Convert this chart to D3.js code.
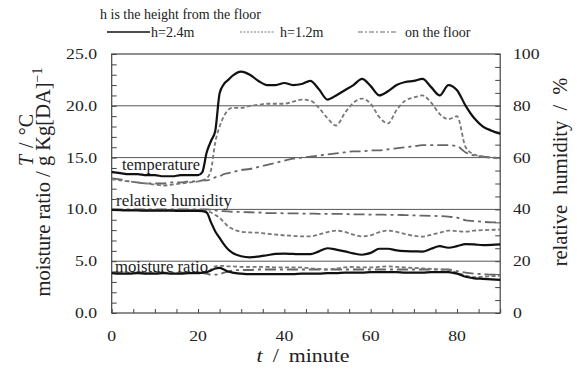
<!DOCTYPE html>
<html><head><meta charset="utf-8">
<script src="https://cdn.jsdelivr.net/npm/d3@7"></script>
<style>body{margin:0;background:#fff}svg{display:block}</style>
</head><body>
<svg id="c" width="577" height="373"></svg>
<script>
const times = [0,2,4,6,8,10,12,14,16,18,20,21,22,23,24,25,26,27,28,30,32,34,36,38,40,42,44,46,48,50,52,54,56,58,60,62,64,66,68,70,72,74,76,78,80,82,84,86,88,90];
// temperature (°C, left axis)
const temp24 = [13.6,13.5,13.4,13.4,13.3,13.3,13.2,13.2,13.3,13.3,13.3,13.6,15.5,16.6,17.6,21.2,22.1,22.5,22.9,23.3,23.0,22.4,22.0,22.0,22.2,22.0,22.1,22.4,21.6,20.6,21.0,21.5,22.0,22.6,21.9,21.0,21.4,22.0,22.3,22.4,22.6,21.8,21.0,22.0,21.5,20.0,18.8,18.0,17.6,17.3];
const temp12 = [12.9,12.8,12.7,12.6,12.5,12.4,12.3,12.4,12.5,12.6,12.7,12.8,13.0,13.8,16.5,18.0,19.0,19.6,19.8,19.8,20.0,20.1,20.2,20.2,20.2,20.4,20.6,20.5,19.8,18.8,18.1,19.3,20.3,20.7,20.2,18.9,18.3,19.6,20.5,20.8,21.0,20.3,19.2,18.7,19.0,16.0,15.3,15.1,15.0,14.9];
const tempFloor = [13.0,12.9,12.7,12.6,12.5,12.5,12.5,12.6,12.6,12.7,12.7,12.8,12.8,12.9,13.1,13.2,13.4,13.5,13.6,13.8,13.9,14.1,14.3,14.5,14.7,14.9,15.0,15.1,15.2,15.3,15.4,15.5,15.6,15.6,15.7,15.7,15.8,15.9,16.0,16.1,16.2,16.2,16.2,16.2,16.1,15.5,15.2,15.1,15.0,15.0];
// relative humidity (%, right axis)
const rh24 = [39.8,39.7,39.6,39.6,39.5,39.5,39.5,39.5,39.4,39.4,39.4,39.3,38.8,35.0,31.5,29.0,26.5,24.5,23.2,21.9,21.5,21.8,22.3,22.8,22.9,22.8,22.7,22.7,23.8,25.0,24.5,23.8,23.0,22.5,23.2,24.8,24.8,24.2,23.9,23.8,23.7,24.8,25.8,25.2,25.8,26.6,26.5,26.2,26.3,26.5];
const rh12 = [39.8,39.8,39.7,39.7,39.6,39.6,39.6,39.6,39.6,39.6,39.6,39.5,39.3,38.8,37.8,36.8,35.0,33.4,32.5,31.4,31.1,31.0,30.6,30.3,30.0,29.8,29.6,29.6,30.3,31.2,31.8,31.3,30.3,29.6,30.0,31.2,31.8,31.3,30.5,29.8,29.5,30.2,31.0,31.8,31.6,31.4,31.8,32.0,32.1,32.2];
const rhFloor = [40.0,40.0,40.0,40.0,40.0,40.0,40.0,40.0,40.0,40.0,40.0,40.0,40.0,39.8,39.6,39.4,39.3,39.2,39.1,39.0,38.9,38.8,38.6,38.6,38.5,38.5,38.4,38.4,38.3,38.3,38.3,38.2,38.1,38.1,38.0,38.0,37.9,37.9,37.8,37.7,37.6,37.5,37.4,37.2,36.8,35.8,35.5,35.2,35.0,35.0];
// moisture ratio (g/kg[DA], left axis)
const mr24 = [3.85,3.8,3.8,3.85,3.8,3.8,3.85,3.8,3.8,3.85,3.85,3.9,3.95,4.1,4.3,4.35,4.2,4.0,3.9,3.8,3.75,3.75,3.75,3.75,3.75,3.75,3.8,3.8,3.8,3.85,3.85,3.9,3.9,3.9,3.95,3.95,3.95,3.95,3.9,3.9,3.9,3.95,3.95,3.95,3.8,3.5,3.35,3.3,3.25,3.2];
const mr12 = [3.85,3.85,3.85,3.85,3.85,3.85,3.85,3.85,3.85,3.85,3.85,3.85,3.9,4.2,4.5,4.55,4.55,4.5,4.5,4.45,4.45,4.45,4.45,4.4,4.4,4.4,4.4,4.3,4.25,4.2,4.3,4.4,4.45,4.4,4.4,4.45,4.5,4.45,4.4,4.35,4.3,4.25,4.2,4.15,3.9,3.6,3.45,3.5,3.55,3.6];
const mrFloor = [3.9,3.9,3.9,3.9,3.9,3.9,3.9,3.9,3.9,3.9,3.9,3.85,3.8,3.7,3.7,3.75,3.9,4.0,4.1,4.15,4.15,4.2,4.2,4.2,4.2,4.2,4.2,4.2,4.2,4.2,4.2,4.2,4.2,4.2,4.2,4.2,4.2,4.2,4.2,4.2,4.2,4.2,4.2,4.2,4.05,3.9,3.8,3.75,3.7,3.7];

const leftTicks = [0,5,10,15,20,25];
const rightTicks = [0,20,40,60,80,100];
const xTicks = [0,20,40,60,80];
const gridVals = [5,10,15,20];

const svg = d3.select("#c");
const L = 111.7, R = 500.2, T = 54, B = 313;
const x = d3.scaleLinear().domain([0,90]).range([L,R]);
const yL = d3.scaleLinear().domain([0,25]).range([B,T]);
const yR = d3.scaleLinear().domain([0,100]).range([B,T]);

// gridlines
svg.append("g").selectAll("line").data(gridVals).join("line")
  .attr("x1",L).attr("x2",R).attr("y1",d=>yL(d)).attr("y2",d=>yL(d))
  .attr("stroke","#555").attr("stroke-width",1);

// axes (inward ticks)
const gL = svg.append("g").attr("transform",`translate(${L},0)`)
  .call(d3.axisLeft(yL).tickValues(d3.range(0,26,1)).tickSize(-5).tickFormat(""));
const gR = svg.append("g").attr("transform",`translate(${R},0)`)
  .call(d3.axisRight(yR).tickValues(d3.range(0,101,5)).tickSize(-5).tickFormat(""));
const gB = svg.append("g").attr("transform",`translate(0,${B})`)
  .call(d3.axisBottom(x).tickValues(d3.range(0,91,5)).tickSize(-4).tickFormat(""));
[gL,gR,gB].forEach(g=>{g.select(".domain").remove();g.selectAll("line").attr("stroke","#444");g.selectAll("text").remove();});

svg.append("rect").attr("x",L).attr("y",T).attr("width",R-L).attr("height",B-T)
  .attr("fill","none").attr("stroke","#444").attr("stroke-width",1.2);

// tick labels (slightly wide glyphs, as in the reference)
const SX = 1.18;
svg.append("g").selectAll("text").data(leftTicks).join("text")
  .attr("transform",d=>`translate(97,${yL(d)+5}) scale(${SX},1)`).attr("text-anchor","end").attr("font-size",15)
  .text(d=>d3.format(".1f")(d));
svg.append("g").selectAll("text").data(rightTicks).join("text")
  .attr("transform",d=>`translate(513,${yR(d)+5}) scale(${SX},1)`).attr("text-anchor","start").attr("font-size",15)
  .text(d=>d);
svg.append("g").selectAll("text").data(xTicks).join("text")
  .attr("transform",d=>`translate(${x(d)},341) scale(${SX},1)`).attr("text-anchor","middle").attr("font-size",15)
  .text(d=>d);

// series
const styles = {
  solid:{stroke:"#111",w:2.2,dash:null},
  dot:{stroke:"#777",w:1.8,dash:"4,2.5"},
  dd:{stroke:"#666",w:1.8,dash:"11,4,3,4"}
};
const series = [
  {v:tempFloor,y:yL,s:"dd"},{v:temp12,y:yL,s:"dot"},{v:temp24,y:yL,s:"solid"},
  {v:rhFloor,y:yR,s:"dd"},{v:rh12,y:yR,s:"dot"},{v:rh24,y:yR,s:"solid"},
  {v:mrFloor,y:yL,s:"dd"},{v:mr12,y:yL,s:"dot"},{v:mr24,y:yL,s:"solid"}
];
series.forEach(se=>{
  const st = styles[se.s];
  const line = d3.line().x((d,i)=>x(times[i])).y(d=>se.y(d)).curve(d3.curveMonotoneX);
  svg.append("path").datum(se.v).attr("d",line).attr("fill","none")
    .attr("stroke",st.stroke).attr("stroke-width",st.w)
    .attr("stroke-dasharray",st.dash).attr("stroke-linejoin","round");
});

// in-plot labels
const inLabels = [
  {t:"temperature",x:122,y:170,w:78},
  {t:"relative humidity",x:116,y:206,w:116},
  {t:"moisture ratio",x:115,y:272,w:93}
];
svg.append("g").selectAll("text").data(inLabels).join("text")
  .attr("x",d=>d.x).attr("y",d=>d.y).attr("font-size",17)
  .attr("textLength",d=>d.w).attr("lengthAdjust","spacingAndGlyphs").text(d=>d.t);

// axis titles
const t1 = svg.append("text").attr("transform","translate(33,140) rotate(-90)")
  .attr("text-anchor","middle").attr("font-size",20).style("word-spacing","2px");
t1.append("tspan").attr("font-style","italic").text("T");
t1.append("tspan").text(" / °C");
const t2 = svg.append("text").attr("transform","translate(50,182) rotate(-90)")
  .attr("text-anchor","middle").attr("font-size",20.5);
t2.append("tspan").text("moisture ratio / g Kg[DA]");
t2.append("tspan").attr("font-size",14).attr("dy",-8).text("−1");
svg.append("text").attr("transform","translate(567,172) rotate(-90)")
  .attr("text-anchor","middle").attr("font-size",20.5).style("word-spacing","5px").text("relative humidity / %");
const t3 = svg.append("text").attr("transform","translate(303,362) scale(1.15,1)").attr("text-anchor","middle")
  .attr("font-size",19).style("word-spacing","4px");
t3.append("tspan").attr("font-style","italic").text("t");
t3.append("tspan").text(" / minute");

// legend
svg.append("text").attr("x",100).attr("y",19).attr("font-size",14).text("h is the height from the floor");
const leg = [
  {s:"solid",x1:107,x2:150,tx:151,t:"h=2.4m"},
  {s:"dot",x1:240,x2:274,tx:280,t:"h=1.2m"},
  {s:"dd",x1:358,x2:398,tx:405,t:"on the floor"}
];
leg.forEach(l=>{
  const st = styles[l.s];
  svg.append("line").attr("x1",l.x1).attr("x2",l.x2).attr("y1",32).attr("y2",32)
    .attr("stroke",st.stroke).attr("stroke-width",l.s==="solid"?1.6:1.2)
    .attr("stroke-dasharray",l.s==="dot"?"2,1.5":(l.s==="dd"?"5,2,2,2":null));
  svg.append("text").attr("x",l.tx).attr("y",37).attr("font-size",14).text(l.t);
});

svg.selectAll("text").style("font-family","'Liberation Serif'").style("fill","#222");
</script>
</body></html>
